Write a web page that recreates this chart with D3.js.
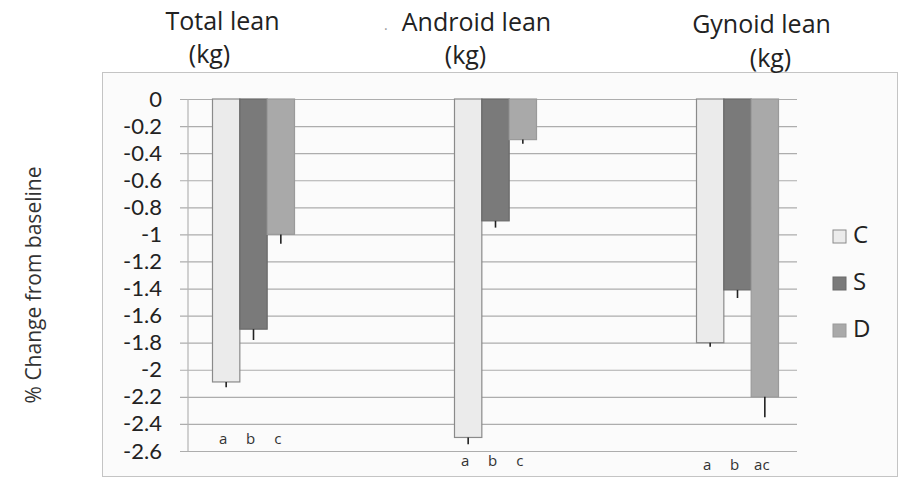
<!DOCTYPE html>
<html><head><meta charset="utf-8">
<script src="https://cdn.jsdelivr.net/npm/d3@7/dist/d3.min.js"></script>
<style>body{margin:0;background:#fff}svg{display:block}</style>
</head><body>
<svg id="chart" width="903" height="482"></svg>
<script>
const groups = ["Total lean", "Android lean", "Gynoid lean"];
const series = ["C", "S", "D"];
const valuesC = [-2.09, -2.50, -1.80];
const valuesS = [-1.70, -0.90, -1.41];
const valuesD = [-1.00, -0.30, -2.20];
const errC = [0.04, 0.05, 0.03];
const errS = [0.08, 0.05, 0.06];
const errD = [0.07, 0.03, 0.15];
const lettersC = ["a", "a", "a"];
const lettersS = ["b", "b", "b"];
const lettersD = ["c", "c", "ac"];
const letterLevel = [-2.52, -2.68, -2.71];
const yTicks = [0, -0.2, -0.4, -0.6, -0.8, -1, -1.2, -1.4, -1.6, -1.8, -2, -2.2, -2.4, -2.6];
const yTickLabels = ["0", "-0.2", "-0.4", "-0.6", "-0.8", "-1", "-1.2", "-1.4", "-1.6", "-1.8", "-2", "-2.2", "-2.4", "-2.6"];
const yTitle = "% Change from baseline";

const colors = {C: "#ebebeb", S: "#7a7a7a", D: "#a9a9a9"};
const strokes = {C: "#8a8a8a", S: "#6a6a6a", D: "#9a9a9a"};
const font = "'Open Sans', Lato, sans-serif";
const tickFont = "Lato, 'Open Sans', sans-serif";

const svg = d3.select("#chart");
const y = d3.scaleLinear().domain([0, -2.6]).range([99, 451]);
const x0 = d3.scaleBand().domain(groups).range([132.5, 858.5]);
const x1 = d3.scaleBand().domain(series).range([x0.bandwidth()/2 - 41, x0.bandwidth()/2 + 41]);

const plotL = 188, plotR = 797;

// outer box
svg.append("rect").attr("x", 102.5).attr("y", 72.5).attr("width", 795).attr("height", 404)
  .attr("fill", "#fbfbfb").attr("stroke", "#c4c4c4");

// gridlines (with tick stubs)
const ag = svg.append("g").attr("transform", `translate(${plotR},0)`);
ag.call(d3.axisLeft(y).tickValues(yTicks).tickSize(plotR - 180).tickFormat(""));
ag.select(".domain").remove();
ag.selectAll(".tick line").attr("stroke", "#adadad").attr("stroke-width", 1.2);

// tick labels
const lab = svg.append("g").attr("transform", `translate(170,0)`);
lab.call(d3.axisLeft(y).tickValues(yTicks).tickSize(0).tickPadding(8).tickFormat((d, i) => yTickLabels[i]));
lab.select(".domain").remove();
lab.selectAll("text").attr("font-family", tickFont).attr("font-size", 22).attr("fill", "#222");

// y axis line
svg.append("line").attr("x1", plotL).attr("x2", plotL).attr("y1", y(0)).attr("y2", y(-2.6))
  .attr("stroke", "#b4b4b4").attr("stroke-width", 1.2);

// bars
const data = [];
groups.forEach((g, i) => {
  data.push({g, s: "C", v: valuesC[i], e: errC[i], l: lettersC[i], ll: letterLevel[i]});
  data.push({g, s: "S", v: valuesS[i], e: errS[i], l: lettersS[i], ll: letterLevel[i]});
  data.push({g, s: "D", v: valuesD[i], e: errD[i], l: lettersD[i], ll: letterLevel[i]});
});
const bx = d => x0(d.g) + x1(d.s);
svg.append("g").selectAll("rect").data(data).join("rect")
  .attr("x", bx).attr("y", y(0)).attr("width", x1.bandwidth())
  .attr("height", d => y(d.v) - y(0))
  .attr("fill", d => colors[d.s]).attr("stroke", d => strokes[d.s]).attr("stroke-width", 1.2);

// error bars
svg.append("g").selectAll("line").data(data).join("line")
  .attr("x1", d => bx(d) + x1.bandwidth()/2).attr("x2", d => bx(d) + x1.bandwidth()/2)
  .attr("y1", d => y(d.v)).attr("y2", d => y(d.v - d.e))
  .attr("stroke", "#222").attr("stroke-width", 1.6);

// letters
svg.append("g").selectAll("text").data(data).join("text")
  .attr("x", d => bx(d) + x1.bandwidth()/2 - 3).attr("y", d => y(d.ll))
  .attr("text-anchor", "middle").attr("dominant-baseline", "middle")
  .attr("font-family", font).attr("font-size", 15).attr("fill", "#333").text(d => d.l);

// group titles
const titleOffsets = [{dx: -31, kdx: -44, ty: 30, ky: 63}, {dx: -19, kdx: -30, ty: 31, ky: 64}, {dx: 24, kdx: 33, ty: 33, ky: 67}];
groups.forEach((g, i) => {
  const cx = x0(g) + x0.bandwidth()/2;
  const o = titleOffsets[i];
  svg.append("text").attr("x", cx + o.dx).attr("y", o.ty).attr("text-anchor", "middle")
    .attr("font-family", font).attr("font-size", 25).attr("fill", "#222").text(g);
  svg.append("text").attr("x", cx + o.kdx).attr("y", o.ky).attr("text-anchor", "middle")
    .attr("font-family", font).attr("font-size", 25).attr("fill", "#222").text("(kg)");
});
svg.append("text").attr("x", 384).attr("y", 30).attr("font-family", font).attr("font-size", 14).attr("fill", "#999").text(".");

// y title
svg.append("text").attr("transform", "translate(41,285) rotate(-90)").attr("text-anchor", "middle")
  .attr("font-family", font).attr("font-size", 21).attr("fill", "#333").text(yTitle);

// legend
const lg = svg.append("g").selectAll("g").data(series).join("g")
  .attr("transform", (d, i) => `translate(833,${230 + i * 47})`);
lg.append("rect").attr("width", 13).attr("height", 13)
  .attr("fill", d => colors[d]).attr("stroke", d => strokes[d]).attr("stroke-width", 1);
lg.append("text").attr("x", 20).attr("y", 7).attr("dominant-baseline", "middle")
  .attr("font-family", font).attr("font-size", 24).attr("fill", "#222").text(d => d);
</script>
</body></html>
